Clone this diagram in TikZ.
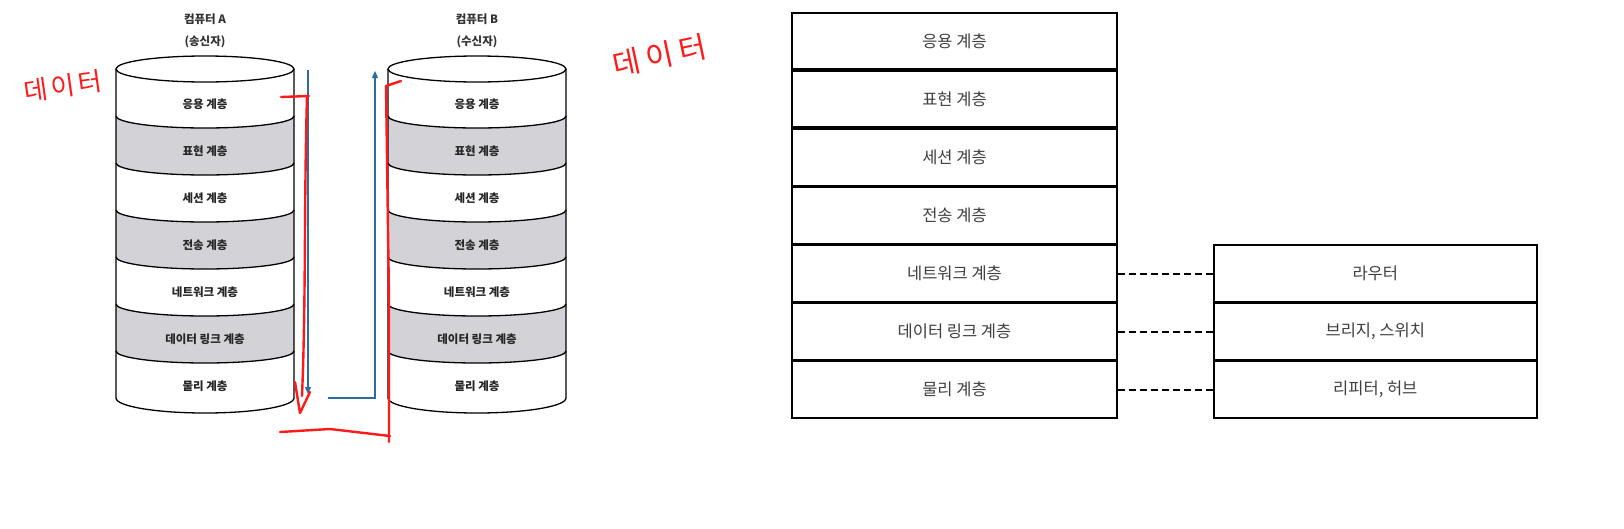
\documentclass[tikz,border=0pt]{standalone}
\usepackage{fontspec}
\setmainfont{Noto Sans CJK KR}
\usetikzlibrary{arrows.meta,positioning}
\definecolor{layergray}{HTML}{D3D3D7}
\definecolor{arrowblue}{HTML}{2B6D9B}
\definecolor{penred}{HTML}{FF1A1A}

\begin{document}
\begin{tikzpicture}[x=1pt, y=-1pt,
  % Node styles
  lyr/.style={font=\fontsize{11.5}{13}\selectfont\bfseries, text=black!85},
  ttl/.style={font=\fontsize{11.5}{22}\selectfont\bfseries, text=black!80, align=center},
  row/.style={draw, line width=1.8pt, minimum width=325pt, minimum height=56.3pt,
              font=\fontsize{16.5}{18}\selectfont, text=black!75, inner sep=0pt},
  dev/.style={row, minimum width=323pt},
  % Arrow styles
  flow/.style={-{Triangle[length=7pt,width=6pt]}, draw=arrowblue, line width=1.2pt},
  link/.style={dash pattern=on 7pt off 4pt, line width=2pt},
  % Hand-drawn marks
  pen/.style={draw=penred, line width=2.4pt, line cap=round, line join=round},
  note/.style={text=penred, inner sep=0pt},
]
\fill[white] (0,0) rectangle (1624,528);
\useasboundingbox (0,0) rectangle (1624,528);

% === Left: two computers as stacked cylinders ===
\foreach \cx/\nm/\who in {205/A/송신자, 477/B/수신자} {
  % gray layers
  \foreach \k in {2,4,6}
    \fill[layergray] ({\cx-89},{69+47*(\k-1)}) arc[start angle=180, end angle=0, x radius=89, y radius=12]
      -- ({\cx+89},{69+47*\k}) arc[start angle=0, end angle=180, x radius=89, y radius=12] -- cycle;
  % outline
  \draw[line width=1.3pt] ({\cx},69) ellipse[x radius=89, y radius=13];
  \draw[line width=1.3pt] ({\cx-89},69) -- ({\cx-89},{69+47*7})
    arc[start angle=180, end angle=0, x radius=89, y radius=15] -- ({\cx+89},69);
  \foreach \k in {1,...,6}
    \draw[line width=1.3pt] ({\cx-89},{69+47*\k}) arc[start angle=180, end angle=0, x radius=89, y radius=12];
  % layer names
  \foreach \lbl [count=\k] in {응용 계층, 표현 계층, 세션 계층, 전송 계층, 네트워크 계층, 데이터 링크 계층, 물리 계층}
    \node[lyr] (\nm\k) at ({\cx},{69+47*\k-11.5}) {\lbl};
  \node[ttl] (\nm top) at ({\cx},31) {컴퓨터 \nm\\(\who)};
}

% === Blue arrows ===
\coordinate (downtop) at (308,70);
\coordinate (downend) at (308,394);
\coordinate (upstart) at (328,398);
\coordinate (uptop) at (375,71);
\draw[flow] (downtop) -- (downend);
\draw[flow] (upstart) -| (uptop);

% === Red pen marks ===
\draw[pen] (281,97) -- (309,96);
\draw[pen] (307,97) .. controls (304,200) and (306,300) .. (302,396);
\draw[pen] (295,382) -- (300,413) -- (310,392);
\draw[pen] (280,432) -- (330,429) -- (390,436);
\draw[pen] (389,442) -- (389,300) -- (386,86) -- (401,81);
\node[note, font=\fontsize{26}{28}\selectfont\addfontfeature{LetterSpace=12}, rotate=8] (notea) at (63,86) {데이터};
\node[note, font=\fontsize{30}{32}\selectfont\addfontfeature{LetterSpace=20}, rotate=12] (noteb) at (660,56) {데이터};

% === Right: layer table ===
\node[row] (r1) at (954.5,41.1) {응용 계층};
\node[row, below=0pt of r1] (r2) {표현 계층};
\node[row, below=0pt of r2] (r3) {세션 계층};
\node[row, below=0pt of r3] (r4) {전송 계층};
\node[row, below=0pt of r4] (r5) {네트워크 계층};
\node[row, below=0pt of r5] (r6) {데이터 링크 계층};
\node[row, below=0pt of r6] (r7) {물리 계층};

% === Devices ===
\node[dev, right=95pt of r5] (d1) {라우터};
\node[dev, below=0pt of d1] (d2) {브리지, 스위치};
\node[dev, below=0pt of d2] (d3) {리피터, 허브};

\draw[link] (r5.east) -- (d1.west);
\draw[link] (r6.east) -- (d2.west);
\draw[link] (r7.east) -- (d3.west);

\end{tikzpicture}
\end{document}
